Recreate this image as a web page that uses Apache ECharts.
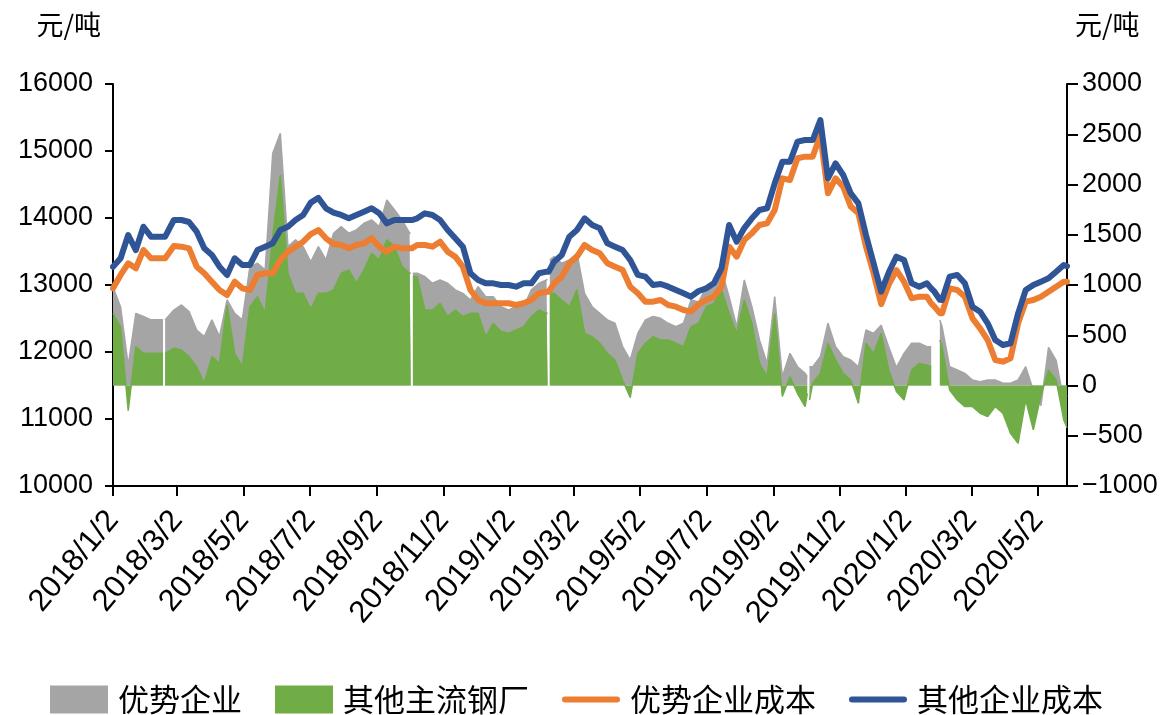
<!DOCTYPE html>
<html><head><meta charset="utf-8">
<script src="https://cdn.jsdelivr.net/npm/echarts@6/dist/echarts.min.js"></script>
<style>html,body{margin:0;padding:0;background:#fff}#c{width:1171px;height:715px}</style>
</head><body><div id="c"></div>
<script>
const dates = ['2018-01-02','2018-01-09','2018-01-16','2018-01-23','2018-01-30','2018-02-06','2018-02-13','2018-02-17','2018-02-18','2018-02-19','2018-02-20','2018-02-27','2018-03-06','2018-03-13','2018-03-20','2018-03-27','2018-04-03','2018-04-10','2018-04-17','2018-04-24','2018-05-01','2018-05-08','2018-05-15','2018-05-22','2018-05-29','2018-06-05','2018-06-12','2018-06-19','2018-06-26','2018-07-03','2018-07-10','2018-07-17','2018-07-24','2018-07-31','2018-08-07','2018-08-14','2018-08-21','2018-08-28','2018-09-04','2018-09-11','2018-09-18','2018-09-25','2018-10-02','2018-10-03','2018-10-04','2018-10-05','2018-10-09','2018-10-16','2018-10-23','2018-10-30','2018-11-06','2018-11-13','2018-11-20','2018-11-27','2018-12-04','2018-12-11','2018-12-18','2018-12-25','2019-01-01','2019-01-08','2019-01-15','2019-01-22','2019-01-29','2019-02-05','2019-02-06','2019-02-07','2019-02-08','2019-02-12','2019-02-19','2019-02-26','2019-03-05','2019-03-12','2019-03-19','2019-03-26','2019-04-02','2019-04-09','2019-04-16','2019-04-23','2019-04-30','2019-05-07','2019-05-14','2019-05-21','2019-05-28','2019-06-04','2019-06-11','2019-06-18','2019-06-25','2019-07-02','2019-07-09','2019-07-16','2019-07-23','2019-07-30','2019-08-06','2019-08-13','2019-08-20','2019-08-27','2019-09-03','2019-09-10','2019-09-17','2019-09-24','2019-10-01','2019-10-03','2019-10-04','2019-10-05','2019-10-08','2019-10-15','2019-10-22','2019-10-29','2019-11-05','2019-11-12','2019-11-19','2019-11-26','2019-12-03','2019-12-10','2019-12-17','2019-12-24','2019-12-31','2020-01-07','2020-01-14','2020-01-21','2020-01-25','2020-01-28','2020-02-02','2020-02-04','2020-02-11','2020-02-18','2020-02-25','2020-03-03','2020-03-10','2020-03-17','2020-03-24','2020-03-31','2020-04-07','2020-04-14','2020-04-21','2020-04-28','2020-05-05','2020-05-12','2020-05-19','2020-05-26','2020-05-29'];

// 优势企业成本 (left axis)
const advCost = [12950,13150,13324,13249,13522,13398,13398,13398,13398,13398,13398,13582,13572,13547,13273,13175,13050,12925,12851,13050,12950,12925,13150,13175,13175,13373,13498,13572,13647,13760,13820,13697,13612,13597,13547,13597,13622,13697,13572,13498,13572,13547,13547,13547,13547,13560,13597,13597,13572,13647,13498,13423,13273,12925,12776,12727,12727,12727,12727,12702,12727,12776,12876,12900,12900,12900,12910,13025,13124,13324,13423,13597,13522,13473,13324,13273,13224,12975,12876,12751,12751,12776,12702,12677,12627,12602,12715,12776,12826,12975,13572,13423,13672,13771,13896,13920,14120,14592,14567,14891,14916,14916,14916,14916,14916,15239,14369,14592,14467,14170,14070,13572,13175,12715,13010,13220,13050,12801,12826,12826,12727,12677,12580,12577,12950,12925,12826,12502,12353,12179,11881,11856,11906,12428,12751,12776,12826,12900,12975,13050,13050];

// 其他企业成本 (left axis)
const othCost = [13273,13400,13746,13522,13870,13721,13721,13721,13721,13721,13721,13970,13970,13940,13796,13547,13448,13273,13150,13398,13299,13299,13522,13572,13622,13821,13870,13970,14045,14230,14300,14145,14080,14045,13995,14045,14095,14145,14070,13920,13970,13970,13970,13970,13970,13970,13995,14070,14045,13970,13821,13697,13572,13175,13075,13025,13025,13000,13000,12975,13025,13025,13175,13199,13199,13199,13199,13348,13448,13721,13821,13995,13896,13846,13622,13572,13522,13373,13150,13124,13000,13015,12975,12925,12876,12826,12910,12950,13025,13249,13896,13647,13850,13995,14120,14145,14518,14840,14840,15139,15164,15164,15164,15164,15164,15463,14592,14816,14642,14369,14219,13746,13324,12900,13190,13423,13373,13025,12975,13025,12950,12900,12780,12776,13124,13150,13025,12676,12602,12428,12179,12104,12130,12577,12925,13000,13050,13100,13199,13299,13280];

// 优势企业 (right axis)
const advProfit = [980,780,200,718,686,653,653,653,null,653,653,751,801,735,552,486,653,486,851,718,653,1183,1216,1150,2310,2509,1382,1449,1382,1230,1382,1250,1515,1582,1515,1549,1615,1648,1582,1846,1748,1648,1515,1515,null,1117,1117,1084,1018,1051,1018,951,917,851,984,884,884,784,751,784,784,951,1018,1051,1051,null,1250,1283,1216,1250,1316,917,784,718,653,619,387,254,519,653,686,669,619,586,619,851,830,983,983,1150,884,585,1051,784,453,220,884,88,320,187,121,88,null,187,187,287,619,386,287,254,187,552,519,600,380,180,320,420,420,386,386,null,652,586,187,154,121,55,38,55,55,22,22,55,187,-50,-200,380,250,-150,-100];

// 其他主流钢厂 (right axis)
const othProfit = [718,580,-250,387,320,320,320,320,null,320,320,370,353,287,187,22,287,221,800,320,187,784,884,718,1483,2094,1117,917,917,760,917,917,951,1117,1150,1018,1150,1316,1250,1449,1382,1183,1117,1117,null,1084,1084,751,751,818,686,751,686,718,718,486,619,540,519,552,586,686,751,718,718,null,917,917,851,784,951,519,486,420,320,254,55,-120,320,420,486,453,453,420,387,586,620,784,817,950,718,519,851,619,220,88,718,-110,88,-80,-210,-80,null,-146,22,121,420,254,121,55,-177,420,320,520,150,-60,-144,154,220,204,187,null,453,386,-45,-144,-210,-210,-276,-310,-210,-276,-475,-575,-144,-441,-100,154,55,-343,-420];

const tickDates = ['2018-01-02','2018-03-02','2018-05-02','2018-07-02','2018-09-02','2018-11-02','2019-01-02','2019-03-02','2019-05-02','2019-07-02','2019-09-02','2019-11-02','2020-01-02','2020-03-02','2020-05-02'];
const axisStart = '2018-01-02', axisEnd = '2020-05-29';

const ts = s => { const p = s.split('-').map(Number); return new Date(p[0], p[1]-1, p[2]).getTime(); };
const pair = arr => dates.map((d, i) => [ts(d), arr[i]]);
const fmtDate = v => { const d = new Date(v); return d.getFullYear() + '/' + (d.getMonth()+1) + '/' + d.getDate(); };

const numFont = 'Liberation Sans, Arial, sans-serif';
const cjkFont = 'Noto Sans CJK SC, sans-serif';
const black = '#000';
const lineIcon = 'path://M3,0L55,0A3,3,0,0,1,55,6L3,6A3,3,0,0,1,3,0Z';

const chart = echarts.init(document.getElementById('c'));
chart.setOption({
  animation: false,
  backgroundColor: '#fff',
  grid: { left: 113, right: 104, top: 84, bottom: 229 },
  legend: {
    left: 50, top: 684, padding: 0, itemWidth: 58, itemHeight: 28, itemGap: 33, symbolKeepAspect: true,
    textStyle: { fontSize: 31, lineHeight: 28, fontFamily: cjkFont, color: black, padding: [0, 0, 0, 5] },
    data: [
      { name: '优势企业', icon: 'rect' },
      { name: '其他主流钢厂', icon: 'rect' },
      { name: '优势企业成本', icon: lineIcon },
      { name: '其他企业成本', icon: lineIcon }
    ]
  },
  xAxis: {
    type: 'value', min: ts(axisStart), max: ts(axisEnd),
    axisLine: { onZero: false, lineStyle: { color: black, width: 2 } },
    axisTick: { show: true, customValues: tickDates.map(ts), length: 10, lineStyle: { color: black, width: 2 } },
    axisLabel: { customValues: tickDates.map(ts), formatter: fmtDate, rotate: 50, margin: 29,
      color: black, fontSize: 31, fontFamily: numFont },
    splitLine: { show: false }
  },
  yAxis: [
    { type: 'value', min: 10000, max: 16000, interval: 1000, position: 'left',
      name: '元/吨', nameLocation: 'end', nameGap: 46,
      nameTextStyle: { fontSize: 27, fontFamily: cjkFont, color: black, align: 'right', padding: [0, 12, 0, 0] },
      axisLine: { show: true, lineStyle: { color: black, width: 2 } },
      axisTick: { show: true, length: 8, lineStyle: { color: black, width: 2 } },
      axisLabel: { margin: 20, color: black, fontSize: 27, fontFamily: numFont, formatter: v => String(v) },
      splitLine: { show: false } },
    { type: 'value', min: -1000, max: 3000, interval: 500, position: 'right',
      name: '元/吨', nameLocation: 'end', nameGap: 46,
      nameTextStyle: { fontSize: 27, fontFamily: cjkFont, color: black, align: 'left', padding: [0, 0, 0, 8] },
      axisLine: { show: true, lineStyle: { color: black, width: 2 } },
      axisTick: { show: true, length: 11, lineStyle: { color: black, width: 2 } },
      axisLabel: { margin: 15, color: black, fontSize: 27, fontFamily: numFont,
        formatter: v => String(v).replace('-', '\u2212') },
      splitLine: { show: false } }
  ],
  series: [
    { name: '优势企业', type: 'line', yAxisIndex: 1, data: pair(advProfit), symbol: 'none', showSymbol: false,
      color: '#A5A5A5', lineStyle: { width: 1.5, color: '#A5A5A5' }, areaStyle: { color: '#A5A5A5', opacity: 1 }, z: 1 },
    { name: '其他主流钢厂', type: 'line', yAxisIndex: 1, data: pair(othProfit), symbol: 'none', showSymbol: false,
      color: '#70AD47', lineStyle: { width: 1.5, color: '#70AD47' }, areaStyle: { color: '#70AD47', opacity: 1 }, z: 2 },
    { name: '优势企业成本', type: 'line', yAxisIndex: 0, data: pair(advCost), symbol: 'none', showSymbol: false,
      color: '#ED7D31', lineStyle: { width: 6, color: '#ED7D31', cap: 'round', join: 'round' }, z: 3 },
    { name: '其他企业成本', type: 'line', yAxisIndex: 0, data: pair(othCost), symbol: 'none', showSymbol: false,
      color: '#2F5597', lineStyle: { width: 6, color: '#2F5597', cap: 'round', join: 'round' }, z: 4 }
  ]
});
</script>
</body></html>
